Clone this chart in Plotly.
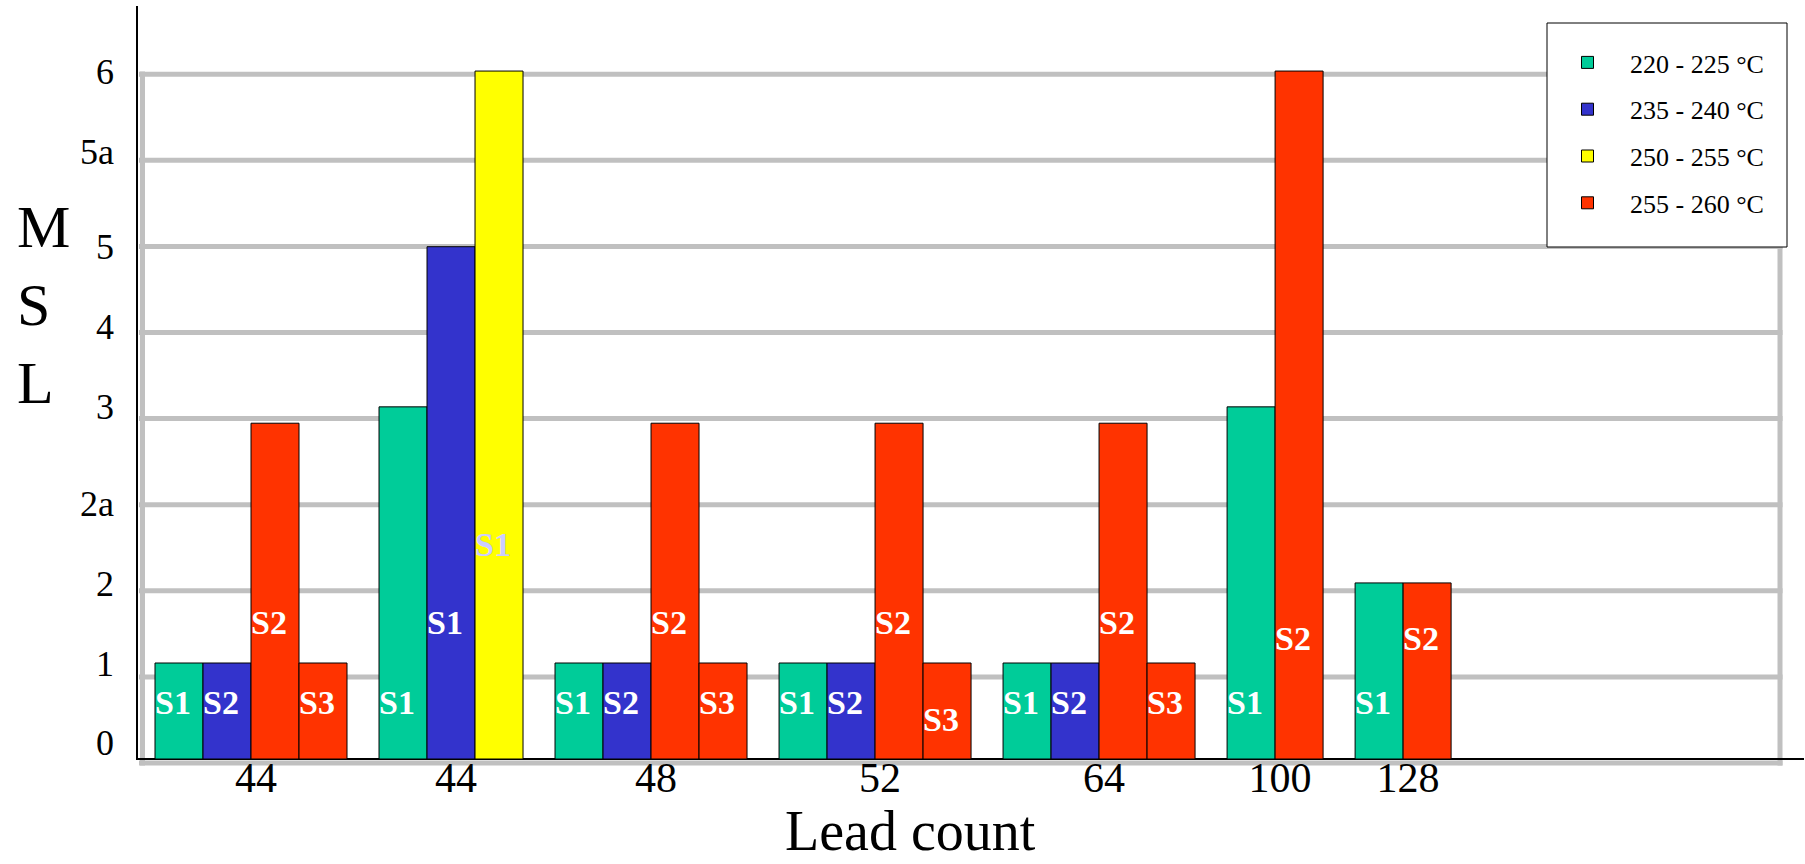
import plotly.graph_objects as go

# ---------------- data ----------------
lead_counts = ["44", "44", "48", "52", "64", "100", "128"]
series_names = ["220 - 225 °C", "235 - 240 °C", "250 - 255 °C", "255 - 260 °C"]
series_colors = ["#00CC99", "#3333CC", "#FFFF00", "#FF3300"]

msl_labels = ["0", "1", "2", "2a", "3", "4", "5", "5a", "6"]
msl_label_pos = [0.19, 1.115, 2.045, 2.97, 4.09, 5.02, 5.95, 7.06, 7.99]

bar_group = [0, 0, 0, 0, 1, 1, 1, 2, 2, 2, 2, 3, 3, 3, 3, 4, 4, 4, 4, 5, 5, 6, 6]
bar_series = [0, 1, 3, 3, 0, 1, 2, 0, 1, 3, 3, 0, 1, 3, 3, 0, 1, 3, 3, 0, 3, 0, 3]
bar_value = [1.115, 1.115, 3.90, 1.115,
             4.09, 5.95, 7.99,
             1.115, 1.115, 3.90, 1.115,
             1.115, 1.115, 3.90, 1.115,
             1.115, 1.115, 3.90, 1.115,
             4.09, 7.99,
             2.045, 2.045]
bar_text = ["S1", "S2", "S2", "S3",
            "S1", "S1", "S1",
            "S1", "S2", "S2", "S3",
            "S1", "S2", "S2", "S3",
            "S1", "S2", "S2", "S3",
            "S1", "S2",
            "S1", "S2"]
bar_text_y = [0.616, 0.616, 1.545, 0.616,
              0.616, 1.545, 2.462,
              0.616, 0.616, 1.545, 0.616,
              0.616, 0.616, 1.545, 0.424,
              0.616, 0.616, 1.545, 0.616,
              0.616, 1.359,
              0.616, 1.359]

# ---------------- layout constants ----------------
W, H = 1805, 864
M_L, M_R, M_T, M_B = 137, 1, 6, 96
PW = W - M_L - M_R
PH = H - M_T - M_B
PX_PER_X = 48.0          # one bar width
PX_PER_Y = 86.1          # one MSL gridline step
ZERO_PX = 759            # baseline pixel row
first_offset = 0.375
group_gap = 0.667
wall_drop = 4 / PX_PER_Y

x_range = [0, PW / PX_PER_X]
y_range = [-(M_T + PH - ZERO_PX) / PX_PER_Y, (ZERO_PX - M_T) / PX_PER_Y]

def px_x(p):
    return (p - M_L) / PW

def px_y(p):
    return (M_T + PH - p) / PH

# bar positions computed from group sizes
counts = [bar_group.count(g) for g in range(len(lead_counts))]
group_start = []
pos = first_offset
for n in counts:
    group_start.append(pos)
    pos += n + group_gap
group_center = [s + n / 2 for s, n in zip(group_start, counts)]
bar_x = []
seen = {}
for g in bar_group:
    i = seen.get(g, 0)
    bar_x.append(group_start[g] + i + 0.5)
    seen[g] = i + 1

SERIF = "Liberation Serif, Times New Roman, serif"

fig = go.Figure()
for s, (name, color) in enumerate(zip(series_names, series_colors)):
    idx = [i for i, bs in enumerate(bar_series) if bs == s]
    fig.add_trace(go.Bar(
        x=[bar_x[i] for i in idx],
        y=[bar_value[i] for i in idx],
        width=1,
        name=name,
        marker=dict(color=color, line=dict(color="black", width=1)),
        legendgroup=name,
        hoverinfo="skip",
    ))

text_colors = ["#CCCCFF" if bar_series[i] == 2 else "white" for i in range(len(bar_x))]
fig.add_trace(go.Scatter(
    x=[bx - 0.5 for bx in bar_x],
    y=bar_text_y,
    mode="text",
    text=bar_text,
    textposition="middle right",
    textfont=dict(family=SERIF, size=34, color=text_colors, weight="bold"),
    showlegend=False,
    hoverinfo="skip",
))

shapes = []
wall_l, wall_r = px_x(142.5), px_x(1780)
for k in range(len(msl_labels)):
    shapes.append(dict(type="line", xref="paper", yref="y", x0=px_x(139), x1=wall_r + 0.0015,
                       y0=k - wall_drop, y1=k - wall_drop, line=dict(color="#C0C0C0", width=5),
                       layer="below"))
top_grid = len(msl_labels) - 1 - wall_drop
for xw in (wall_l, wall_r):
    shapes.append(dict(type="line", xref="paper", yref="y", x0=xw, x1=xw,
                       y0=-wall_drop - 0.03, y1=top_grid + 0.03,
                       line=dict(color="#C0C0C0", width=5), layer="below"))
# y axis line
shapes.append(dict(type="line", xref="paper", yref="paper", x0=0, x1=0,
                   y0=px_y(760), y1=1, line=dict(color="black", width=2)))
# legend box
shapes.append(dict(type="rect", xref="paper", yref="paper",
                   x0=px_x(1547), x1=px_x(1787), y0=px_y(247), y1=px_y(23),
                   fillcolor="white", line=dict(color="black", width=1), layer="above"))

fig.update_layout(
    width=W, height=H,
    margin=dict(l=M_L, r=M_R, t=M_T, b=M_B, pad=0),
    paper_bgcolor="white", plot_bgcolor="white",
    barmode="overlay",
    showlegend=True,
    legend=dict(x=px_x(1545), y=px_y(39), xanchor="left", yanchor="top",
                bgcolor="rgba(0,0,0,0)", borderwidth=0,
                font=dict(family=SERIF, size=26, color="black"),
                itemwidth=75, tracegroupgap=10, traceorder="grouped"),
    xaxis=dict(range=x_range, showgrid=False, zeroline=False, showline=False,
               tickmode="array", tickvals=group_center, ticktext=lead_counts,
               ticks="", tickfont=dict(family=SERIF, size=42, color="black"),
               ticklabelstandoff=-19, ticklabelshift=5, fixedrange=True),
    yaxis=dict(range=y_range, showgrid=False, showline=False,
               zeroline=True, zerolinecolor="black", zerolinewidth=2,
               tickmode="array", tickvals=msl_label_pos, ticktext=msl_labels,
               ticks="", tickfont=dict(family=SERIF, size=36, color="black"),
               ticklabelstandoff=22, fixedrange=True),
    shapes=shapes,
    annotations=[
        dict(text="Lead count", xref="paper", yref="paper", x=px_x(910), y=px_y(863),
             xanchor="center", yanchor="bottom", showarrow=False, borderpad=0,
             font=dict(family=SERIF, size=56, color="black")),
        dict(text="M<br>S<br>L", xref="paper", yref="paper", x=px_x(15), y=px_y(305),
             xanchor="left", yanchor="middle", align="left", showarrow=False,
             font=dict(family=SERIF, size=60, color="black")),
    ],
)

fig.write_html("out.html", config={"displayModeBar": False},
               post_script="document.body.style.margin='0';document.body.style.overflow='hidden';")
